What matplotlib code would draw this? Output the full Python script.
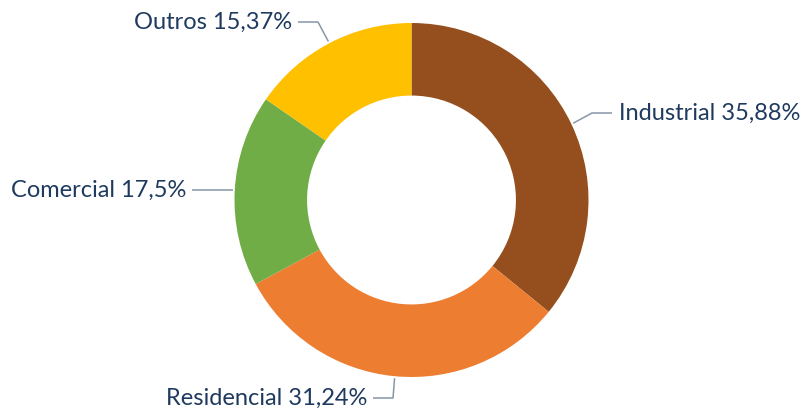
import matplotlib
matplotlib.use("Agg")
import matplotlib.pyplot as plt
import numpy as np

categories = ["Industrial", "Residencial", "Comercial", "Outros"]
values = [35.88, 31.24, 17.5, 15.37]
labels = ["Industrial 35,88%", "Residencial 31,24%", "Comercial 17,5%", "Outros 15,37%"]
colors = ["#954F1F", "#ED7D31", "#70AD47", "#FFC000"]

W, H = 805, 412
fig = plt.figure(figsize=(W / 100, H / 100), dpi=100)
ax = fig.add_axes([0, 0, 1, 1])

cx, cy, R = 411.5, H - 200, 177
ax.pie(values, colors=colors, startangle=90, counterclock=False,
       center=(cx, cy), radius=R, frame=True,
       wedgeprops=dict(width=R * 0.41, linewidth=0))
ax.set_xlim(0, W)
ax.set_ylim(0, H)
ax.axis("off")

text_color = "#1F3A5F"
line_color = "#8896A8"
fs = 17

total = sum(values)
cum = np.cumsum([0] + values[:-1])
mids = [(c + v / 2) / total * 360 for c, v in zip(cum, values)]

layout = {
    "Industrial": dict(elbow=(592, 113), hend=612, ha="left"),
    "Residencial": dict(elbow=(393, 398), hend=373, ha="right"),
    "Comercial": dict(elbow=(210, 190), hend=192, ha="right"),
    "Outros": dict(elbow=(318, 22), hend=298, ha="right"),
}

for cat, lab, m in zip(categories, labels, mids):
    ang = np.deg2rad(90 - m)
    ax_x = cx + (R + 2) * np.cos(ang)
    ax_y = cy + (R + 2) * np.sin(ang)
    L = layout[cat]
    ex, ey = L["elbow"][0], H - L["elbow"][1]
    if cat == "Comercial":
        ey = ax_y
    hx = L["hend"]
    ax.plot([ax_x, ex, hx], [ax_y, ey, ey], color=line_color, lw=1.1,
            solid_capstyle="butt")
    tx = hx + 7 if L["ha"] == "left" else hx - 6
    ax.text(tx, ey, lab, ha=L["ha"], va="center", fontsize=fs,
            color=text_color, family="Lato")

fig.savefig("out.png", dpi=100, facecolor="white")
